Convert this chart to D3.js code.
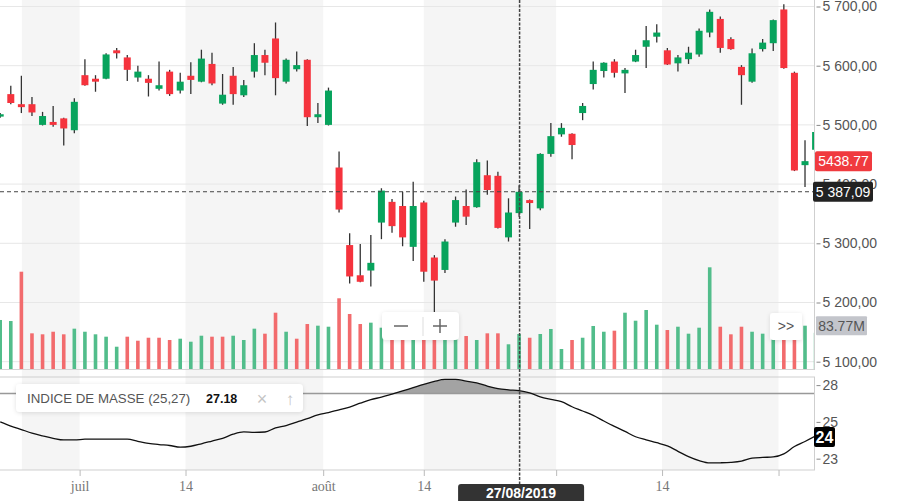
<!DOCTYPE html>
<html><head><meta charset="utf-8">
<script src="https://cdn.jsdelivr.net/npm/d3@7"></script>
<style>
body{margin:0;background:#fff;}
svg{display:block;font-family:"Liberation Sans",Arial,sans-serif;}
</style>
</head><body>
<svg id="c" width="912" height="501"></svg>
<script>
// ---------- DATA ----------
const dates = ["19/06","20/06","21/06","24/06","25/06","26/06","27/06","28/06",
"01/07","02/07","03/07","04/07","05/07","08/07","09/07","10/07","11/07","12/07",
"15/07","16/07","17/07","18/07","19/07","22/07","23/07","24/07","25/07","26/07","29/07","30/07","31/07",
"01/08","02/08","05/08","06/08","07/08","08/08","09/08","12/08","13/08","14/08","15/08","16/08",
"19/08","20/08","21/08","22/08","23/08","26/08","27/08","28/08","29/08","30/08",
"02/09","03/09","04/09","05/09","06/09","09/09","10/09","11/09","12/09","13/09",
"16/09","17/09","18/09","19/09","20/09","23/09","24/09","25/09","26/09","27/09","30/09",
"01/10","02/10","03/10","04/10"];
const open  = [5514,5552,5535,5535,5500,5505,5511,5491,5584,5578,5578,5626,5614,5580,5578,5561,5590,5558,5583,5573,
5603,5536,5583,5550,5590,5618,5646,5573,5594,5610,5513,5500,5428,5297,5246,5254,5335,5370,5363,5294,
5369,5276,5255,5335,5363,5361,5415,5414,5310,5351,5373,5359,5451,5484,5485,5520,5569,5591,5607,5587,
5607,5632,5649,5626,5604,5611,5619,5656,5679,5645,5598,5573,5628,5638,5695,5588,5432,5458];
const high  = [5520,5566,5583,5547,5522,5532,5512,5545,5611,5584,5621,5630,5618,5600,5584,5607,5593,5588,5606,5627,
5622,5586,5598,5576,5638,5627,5673,5612,5624,5611,5537,5563,5455,5317,5299,5314,5393,5375,5387,5404,
5372,5280,5307,5379,5391,5442,5440,5421,5376,5398,5374,5452,5503,5503,5486,5537,5607,5606,5611,5596,
5627,5667,5670,5630,5618,5632,5663,5695,5683,5648,5601,5629,5645,5678,5704,5590,5474,5495];
const low   = [5512,5535,5520,5515,5499,5497,5465,5486,5566,5556,5577,5612,5574,5573,5548,5558,5549,5553,5552,5572,
5567,5534,5534,5547,5580,5584,5550,5570,5590,5498,5503,5499,5352,5232,5234,5227,5307,5318,5295,5270,
5235,5182,5250,5328,5331,5360,5382,5325,5303,5345,5324,5356,5446,5480,5442,5508,5560,5580,5580,5554,
5606,5596,5639,5601,5590,5603,5615,5648,5622,5627,5534,5571,5624,5625,5595,5422,5395,5450];
const close = [5518,5537,5530,5521,5515,5500,5494,5539,5567,5573,5619,5621,5593,5590,5571,5567,5552,5573,5576,5612,
5570,5551,5552,5567,5618,5605,5579,5610,5601,5513,5518,5558,5357,5244,5235,5267,5389,5329,5310,5363,
5252,5237,5303,5373,5345,5437,5390,5326,5352,5387,5368,5451,5481,5495,5466,5532,5593,5605,5588,5593,
5618,5643,5656,5602,5614,5622,5659,5691,5630,5628,5584,5621,5639,5677,5596,5423,5438.77,5488];
const volume = [94.8,92.8,188.2,69,67.1,72.1,67.1,78,72.1,67.1,
62.5,43.1,62.5,54.7,60.5,60.5,56.1,58.6,52.8,64.4,
62.5,62.5,64.4,56.1,78,68.3,108.9,72.1,58.6,87,
83.8,81.8,136.8,106.4,87,89.6,79.9,75,80,78,
85,80,75,70,63.8,56.1,69,69,47.8,67.7,
60.5,67.7,77.4,38.7,56.1,60.5,83.2,72.1,74.1,108.9,
93.4,114.1,85.7,75.4,81.8,68.3,79.9,196.7,81.8,67.1,
81.8,72.1,68.3,65.8,75,100,83.77,70];
const massIndex = [25.14,24.87,24.64,24.41,24.23,24.07,23.96,23.96,24.01,24.02,
24.02,24.02,24.01,23.87,23.74,23.66,23.60,23.49,23.55,23.71,
23.89,24.07,24.34,24.49,24.45,24.48,24.75,24.90,25.13,25.35,
25.59,25.75,25.92,26.11,26.36,26.60,26.75,26.95,27.16,27.38,
27.59,27.78,27.91,27.91,27.80,27.68,27.48,27.31,27.23,27.18,
27.03,26.78,26.61,26.46,26.13,25.85,25.56,25.20,24.85,24.52,
24.17,23.97,23.78,23.57,23.22,22.87,22.61,22.46,22.47,22.50,
22.58,22.77,22.82,22.85,23.05,23.53,23.86,24.22];
const massThreshold = 27;
const priceTicks = [5100,5200,5300,5400,5500,5600,5700];
const massTicks = [27.54,25.14,22.74];
const dateTickPos = [7.5,17.5,30.5,40,52.5,62.5,73.5];
const dateTickLabels = ["juil","14","août","14","","14",""];
const shadeBands = [[2.05,7.5],[17.5,30.5],[40,52.5],[62.5,73.5]];
const crossIndex = 49;
const crossPrice = 5387.09;
const lastIndex = 76;
const legendTitle = "INDICE DE MASSE (25,27)";
const crossDateLabel = "27/08/2019";

// ---------- SETUP ----------
const svg = d3.select("#c");
const plotR = 814;
const x = d3.scaleLinear().domain([0, 77]).range([0.2, 815.6]);
const yP = d3.scaleLinear().domain([5100, 5700]).range([361.7, 6.5]);
const yV = d3.scaleLinear().domain([0, 200]).range([369, 265.6]);
const yM = d3.scaleLinear().domain([22, 28.07]).range([470, 377]);
const fr = d3.formatLocale({decimal: ",", thousands: " ", grouping: [3], currency: ["", ""]});
const fmtPrice = fr.format(",.2f");
const GREEN = "#07a35c", RED = "#f5333d";
const VGREEN = "#52bd8b", VRED = "#f26b6d";

const defs = svg.append("defs");
defs.append("clipPath").attr("id", "clip").append("rect").attr("x", 0).attr("y", 0).attr("width", plotR).attr("height", 501);
const sh = defs.append("filter").attr("id", "sh").attr("x", "-20%").attr("y", "-30%").attr("width", "140%").attr("height", "160%");
sh.append("feDropShadow").attr("dx", 0).attr("dy", 1).attr("stdDeviation", 2).attr("flood-color", "#000").attr("flood-opacity", 0.12);

// background bands
svg.append("g").selectAll("rect").data(shadeBands).join("rect")
  .attr("x", d => x(d[0])).attr("width", d => x(d[1]) - x(d[0]))
  .attr("y", 0).attr("height", 470).attr("fill", "#f5f5f5");

// price gridlines
svg.append("g").selectAll("line").data(priceTicks).join("line")
  .attr("x1", 0).attr("x2", plotR).attr("y1", d => yP(d)).attr("y2", d => yP(d))
  .attr("stroke", "#e7e7e7").attr("stroke-width", 1);

const plot = svg.append("g").attr("clip-path", "url(#clip)");
const idx = d3.range(close.length);

// volume bars
plot.append("g").selectAll("rect").data(idx).join("rect")
  .attr("x", i => x(i) - 1.8).attr("width", 3.6)
  .attr("y", i => yV(volume[i])).attr("height", i => yV(0) - yV(volume[i]))
  .attr("fill", i => (i === 0 ? close[i] >= open[i] : close[i] >= close[i - 1]) ? VGREEN : VRED);

// wicks
plot.append("g").selectAll("line").data(idx).join("line")
  .attr("x1", i => x(i)).attr("x2", i => x(i))
  .attr("y1", i => yP(high[i])).attr("y2", i => yP(low[i]))
  .attr("stroke", "#333").attr("stroke-width", 1.3);

// bodies
plot.append("g").selectAll("rect").data(idx).join("rect")
  .attr("x", i => x(i) - 3.5).attr("width", 7)
  .attr("y", i => yP(Math.max(open[i], close[i])))
  .attr("height", i => Math.max(1.5, Math.abs(yP(open[i]) - yP(close[i]))))
  .attr("fill", i => close[i] >= open[i] ? GREEN : RED);

// panel borders
svg.append("line").attr("x1", 0).attr("x2", plotR).attr("y1", 369.5).attr("y2", 369.5).attr("stroke", "#d4d4d4");
svg.append("line").attr("x1", plotR + 0.5).attr("x2", plotR + 0.5).attr("y1", 0).attr("y2", 370).attr("stroke", "#cfcfcf");

// price axis
const pAxis = svg.append("g").attr("transform", `translate(${plotR + 0.5},0)`)
  .call(d3.axisRight(yP).tickValues(priceTicks).tickFormat(fmtPrice).tickSize(5).tickPadding(3));
pAxis.select(".domain").remove();
pAxis.selectAll(".tick line").attr("stroke", "#888").attr("x1", 2).attr("x2", 6);
pAxis.selectAll(".tick text").attr("font-family", "Liberation Sans, Arial, sans-serif").attr("font-size", 14).attr("fill", "#555").attr("x", 8);

// ---------- MASS INDEX PANEL ----------
svg.append("rect").attr("x", -1).attr("y", 377).attr("width", plotR + 1.5).attr("height", 93)
  .attr("fill", "none").attr("stroke", "#cfcfcf");
const mi = svg.append("g").attr("clip-path", "url(#clip)");
mi.append("path").datum(idx)
  .attr("d", d3.area().x(i => x(i)).y0(yM(massThreshold)).y1(i => yM(Math.max(massThreshold, massIndex[i]))))
  .attr("fill", "#a3a3a3");
mi.append("line").attr("x1", 0).attr("x2", plotR).attr("y1", yM(massThreshold)).attr("y2", yM(massThreshold))
  .attr("stroke", "#999").attr("stroke-width", 1.5);
mi.append("path").datum(idx)
  .attr("d", d3.line().x(i => x(i)).y(i => yM(massIndex[i])).curve(d3.curveMonotoneX))
  .attr("fill", "none").attr("stroke", "#111").attr("stroke-width", 1.3);

const mAxis = svg.append("g").attr("transform", `translate(${plotR + 0.5},0)`)
  .call(d3.axisRight(yM).tickValues(massTicks).tickFormat(d3.format(".0f")).tickSize(5).tickPadding(3));
mAxis.select(".domain").remove();
mAxis.selectAll(".tick line").attr("stroke", "#888").attr("x1", 2).attr("x2", 6);
mAxis.selectAll(".tick text").attr("font-family", "Liberation Sans, Arial, sans-serif").attr("font-size", 14).attr("fill", "#555").attr("x", 8);

// ---------- DATE AXIS ----------
const dAxis = svg.append("g").attr("transform", "translate(0,470)")
  .call(d3.axisBottom(x).tickValues(dateTickPos).tickFormat((d, k) => dateTickLabels[k]).tickSize(6).tickPadding(5));
dAxis.select(".domain").remove();
dAxis.selectAll(".tick line").attr("stroke", "#bbb");
dAxis.selectAll(".tick text").attr("font-family", "Liberation Serif, Times New Roman, serif").attr("font-size", 14).attr("fill", "#777");

// ---------- CROSSHAIR ----------
svg.append("line").attr("x1", 0).attr("x2", plotR).attr("y1", yP(crossPrice)).attr("y2", yP(crossPrice))
  .attr("stroke", "#444").attr("stroke-width", 1).attr("stroke-dasharray", "4,3");
svg.append("line").attr("x1", x(crossIndex) + 0.5).attr("x2", x(crossIndex) + 0.5).attr("y1", 0).attr("y2", 484)
  .attr("stroke", "#444").attr("stroke-width", 1.5).attr("stroke-dasharray", "3,1.5");

// ---------- LABELS ----------
function tag(xx, yc, w, h, bg, txt, col, weight, size, rx) {
  const g = svg.append("g");
  g.append("rect").attr("x", xx).attr("y", yc - h / 2).attr("width", w).attr("height", h).attr("rx", rx).attr("fill", bg);
  g.append("text").attr("x", xx + w / 2).attr("y", yc).attr("text-anchor", "middle").attr("dominant-baseline", "central")
    .attr("font-size", size).attr("font-weight", weight).attr("fill", col).text(txt);
  return g;
}
tag(815, yP(close[lastIndex]), 57, 20, "#f03a3f", d3.format(".2f")(close[lastIndex]), "#fff", "normal", 14, 2);
tag(813, yP(crossPrice), 60, 20, "#222", fmtPrice(crossPrice), "#fff", "normal", 14, 2);
tag(816, yV(volume[lastIndex]), 51, 19, "#c3c5cb", d3.format(".2f")(volume[lastIndex]) + "M", "#555", "normal", 14, 1);
tag(814, yM(massIndex[77] - 0.07), 21, 20, "#000", d3.format(".0f")(massIndex[77]), "#fff", "bold", 16, 2);

// zoom control box
const zb = svg.append("g");
zb.append("rect").attr("x", 382).attr("y", 312).attr("width", 77).attr("height", 28).attr("rx", 4).attr("fill", "#fff").attr("filter", "url(#sh)");
zb.append("line").attr("x1", 394).attr("x2", 408).attr("y1", 326).attr("y2", 326).attr("stroke", "#666").attr("stroke-width", 1.5);
zb.append("line").attr("x1", 423).attr("x2", 423).attr("y1", 317).attr("y2", 336).attr("stroke", "#ddd").attr("stroke-width", 1);
zb.append("line").attr("x1", 433).attr("x2", 447).attr("y1", 326).attr("y2", 326).attr("stroke", "#666").attr("stroke-width", 1.5);
zb.append("line").attr("x1", 440).attr("x2", 440).attr("y1", 319).attr("y2", 333).attr("stroke", "#666").attr("stroke-width", 1.5);

// >> box
const nb = svg.append("g");
nb.append("rect").attr("x", 770).attr("y", 313).attr("width", 32).attr("height", 27).attr("rx", 3).attr("fill", "#fff").attr("filter", "url(#sh)");
nb.append("text").attr("x", 786).attr("y", 326).attr("text-anchor", "middle").attr("dominant-baseline", "central")
  .attr("font-size", 14).attr("fill", "#555").text(">>");

// legend
const lg = svg.append("g");
lg.append("rect").attr("x", 16).attr("y", 384).attr("width", 287).attr("height", 28).attr("rx", 4).attr("fill", "#fff").attr("filter", "url(#sh)");
lg.append("text").attr("x", 27).attr("y", 398.5).attr("dominant-baseline", "central").attr("font-size", 13.3).attr("fill", "#555").text(legendTitle);
lg.append("text").attr("x", 206).attr("y", 399).attr("dominant-baseline", "central").attr("font-size", 12.5).attr("font-weight", "bold").attr("fill", "#111")
  .text(d3.format(".2f")(massIndex[crossIndex]));
lg.append("text").attr("x", 262).attr("y", 399).attr("text-anchor", "middle").attr("dominant-baseline", "central").attr("font-size", 18).attr("fill", "#c4c4c4").text("×");
lg.append("text").attr("x", 290).attr("y", 399).attr("text-anchor", "middle").attr("dominant-baseline", "central").attr("font-size", 17).attr("fill", "#c4c4c4").text("↑");

// date tooltip
const dt = svg.append("g");
dt.append("rect").attr("x", x(crossIndex) - 61).attr("y", 484).attr("width", 126).attr("height", 24).attr("rx", 3).attr("fill", "#333");
dt.append("text").attr("x", x(crossIndex) + 2).attr("y", 493).attr("text-anchor", "middle").attr("dominant-baseline", "central")
  .attr("font-size", 14).attr("font-weight", "bold").attr("fill", "#fff").text(crossDateLabel);
</script>
</body></html>
